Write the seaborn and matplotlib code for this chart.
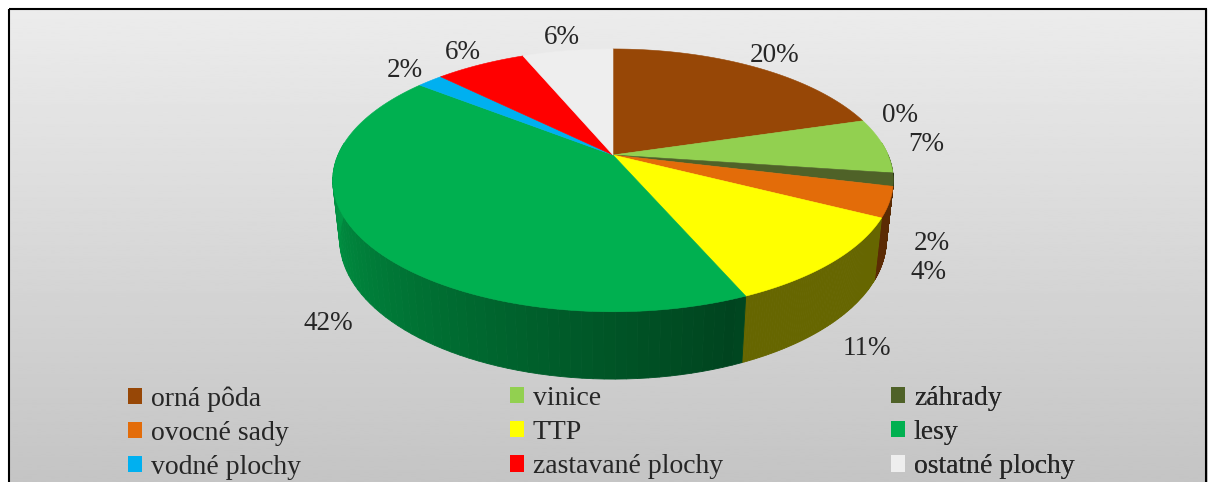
import numpy as np
import matplotlib.pyplot as plt
import seaborn as sns
from matplotlib.patches import Patch, Polygon, Rectangle
from matplotlib.colors import to_rgb

# data (share of land in %)
categories = ['orná pôda', 'vinice', 'záhrady', 'ovocné sady', 'TTP', 'lesy',
              'vodné plochy', 'zastavané plochy', 'ostatné plochy']
shares = [20.4, 6.8, 1.6, 3.7, 11.0, 42.1, 1.8, 6.3, 6.3]
labels = ['20%', '7%', '2%', '4%', '11%', '42%', '2%', '6%', '6%']
zero_label = '0%'   # empty item labelled between orná pôda and vinice
colors = ['#974706', '#92D050', '#4F6228', '#E36C09', '#FFFF00', '#00B050',
          '#00B0F0', '#FF0000', '#EEEEEE']

sns.set_style('white')
plt.rcParams['font.family'] = ['Liberation Serif', 'DejaVu Serif']

# simple perspective view of a tilted disc
CX, CY = 613, 155
F, D = 1265, 4.6
TS = 0.46
TC = np.sqrt(1 - TS ** 2)
H = 0.245


def project(X, Z, Y=0.0):
    yc = Y * TC + Z * TS
    depth = D + Z * TC - Y * TS
    return CX + F * X / depth, CY - F * yc / depth


def shade(a):
    a = np.degrees(a) % 360
    if a < 180:
        return 0.88
    if a < 292:
        return 0.88 - 0.5 * (a - 180) / 112
    return 0.4


fig = plt.figure(figsize=(12.08, 4.82), dpi=100)
ax = fig.add_axes([0, 0, 1, 1])
ax.set_xlim(0, 1208)
ax.set_ylim(482, 0)
ax.axis('off')

# chart area background
grad = np.linspace(0.925, 0.77, 256).reshape(-1, 1)
ax.imshow(grad, cmap='gray', vmin=0, vmax=1, extent=[9, 1208, 482, 9],
          aspect='auto', zorder=0)
ax.add_patch(Rectangle((9, 9), 1197, 490, fill=False, ec='black', lw=1.5, zorder=10))

cum = np.concatenate([[0], np.cumsum(shares)]) / np.sum(shares)
theta = np.radians(90 - cum * 360)

# side walls (front half only)
for i, c in enumerate(colors):
    base = np.array(to_rgb(c))
    ang = np.linspace(theta[i], theta[i + 1], 80)
    for a0, a1 in zip(ang[:-1], ang[1:]):
        am = (a0 + a1) / 2
        if np.sin(am) > 0.1:
            continue
        p = [project(np.cos(a0), np.sin(a0)), project(np.cos(a1), np.sin(a1)),
             project(np.cos(a1), np.sin(a1), -H), project(np.cos(a0), np.sin(a0), -H)]
        col = base * shade(am)
        ax.add_patch(Polygon(p, fc=col, ec=col, lw=0.6, zorder=2))

# top faces
for i, c in enumerate(colors):
    ang = np.linspace(theta[i], theta[i + 1], 120)
    pts = [project(0, 0)] + [project(np.cos(a), np.sin(a)) for a in ang]
    ax.add_patch(Polygon(pts, fc=c, ec=c, lw=0.4, zorder=3))


def label_at(a, text, r=1.16):
    X, Z = r * np.cos(a), r * np.sin(a)
    x, y = project(X, Z, 0.0 if Z > 0 else -H)
    ax.text(x, y, text, ha='center', va='center', fontsize=19.5, zorder=5)


mids = (theta[:-1] + theta[1:]) / 2
for a, t in zip(mids, labels):
    label_at(a, t)
label_at(theta[1], zero_label)

# legend: three columns
handles = [Patch(fc=c, ec='none') for c in colors]
col_x = [128, 510, 891]
for j in range(3):
    idx = [j, j + 3, j + 6]
    leg = ax.legend([handles[k] for k in idx], [categories[k] for k in idx],
                    loc='upper left', bbox_to_anchor=(col_x[j], 386),
                    bbox_transform=ax.transData, frameon=False, fontsize=20,
                    handlelength=0.52, handleheight=0.52, handletextpad=0.3,
                    labelspacing=0.33, borderpad=0, borderaxespad=0)
    ax.add_artist(leg)

fig.savefig('out.png', dpi=100)
